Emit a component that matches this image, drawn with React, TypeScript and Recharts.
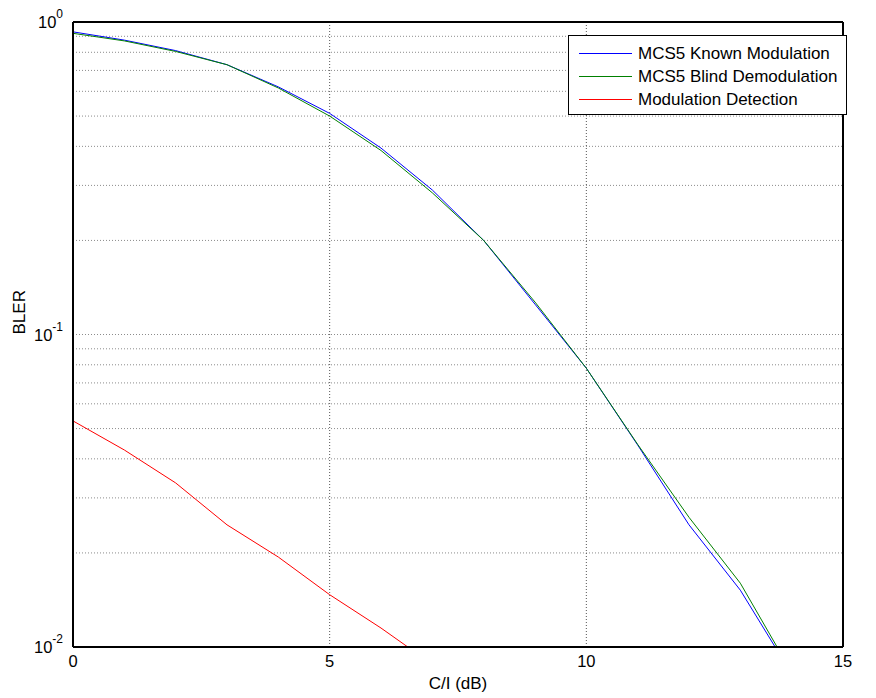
import { Line, LineChart, ReferenceLine, XAxis, YAxis } from "recharts";

const snr = [0, 1, 2, 3, 4, 5, 6, 7, 8, 9, 10, 11, 12, 13, 14];
const knownMod = [0.93, 0.875, 0.81, 0.73, 0.62, 0.51, 0.395, 0.29, 0.2, 0.125, 0.078, 0.0443, 0.0246, 0.0152, 0.0082];
const blindDemod = [0.92, 0.87, 0.805, 0.73, 0.615, 0.5, 0.388, 0.284, 0.2, 0.127, 0.078, 0.0445, 0.026, 0.016, 0.0083];
const modDetect = [0.0529, 0.0427, 0.0335, 0.0246, 0.0194, 0.0147, 0.0115, 0.0088, null, null, null, null, null, null, null];

const xTicks = [0, 5, 10, 15];
const yTicks = [0.01, 0.1, 1];
const minorGrid = [0.02, 0.03, 0.04, 0.05, 0.06, 0.07, 0.08, 0.09, 0.1, 0.2, 0.3, 0.4, 0.5, 0.6, 0.7, 0.8, 0.9];
const xGrid = [5, 10];

const series = [
  { key: "known", name: "MCS5 Known Modulation", color: "#0000ff" },
  { key: "blind", name: "MCS5 Blind Demodulation", color: "#008000" },
  { key: "detect", name: "Modulation Detection", color: "#ff0000" },
];

const data = snr.map((x, i) => ({
  snr: x,
  known: knownMod[i],
  blind: blindDemod[i],
  detect: modDetect[i],
}));

const font = "'Liberation Sans', Arial, sans-serif";

function PowerTick({ x, y, payload }: any) {
  const exp = Math.round(Math.log10(payload.value));
  return (
    <text x={x - 2} y={y + 6} textAnchor="end" fontSize={16.5} fontFamily={font} fill="#000">
      10
      <tspan dy={-10} fontSize={12}>
        {exp}
      </tspan>
    </text>
  );
}

function LegendBox() {
  return (
    <div
      style={{
        position: "absolute",
        left: 560,
        top: 27,
        width: 279,
        height: 80,
        border: "1px solid #000",
        background: "#fff",
        fontFamily: font,
        fontSize: 17,
        boxSizing: "border-box",
        paddingTop: 6,
      }}
    >
      {series.map((s) => (
        <div key={s.key} style={{ display: "flex", alignItems: "center", height: 23 }}>
          <div style={{ width: 53, height: 1, background: s.color, marginLeft: 10, marginRight: 6 }} />
          <span>{s.name}</span>
        </div>
      ))}
    </div>
  );
}

export default function App() {
  return (
    <div style={{ position: "relative", width: 868, height: 690 }}>
      <LineChart width={868} height={690} data={data} margin={{ top: 14, right: 33, left: 15, bottom: 21 }}>
        {minorGrid.map((v) => (
          <ReferenceLine key={`h${v}`} y={v} stroke="#8c8c8c" strokeDasharray="1 2" />
        ))}
        {xGrid.map((v) => (
          <ReferenceLine key={`v${v}`} x={v} stroke="#555" strokeDasharray="1 2" />
        ))}
        <XAxis
          dataKey="snr"
          type="number"
          domain={[0, 15]}
          ticks={xTicks}
          height={30}
          tickLine={false}
          axisLine={{ stroke: "#000", strokeWidth: 2 }}
          tick={{ fontSize: 16.5, fontFamily: font, fill: "#000" }}
          label={{ value: "C/I (dB)", position: "insideBottom", offset: -12, fontSize: 17, fontFamily: font, fill: "#000" }}
        />
        <YAxis
          scale="log"
          domain={[0.01, 1]}
          allowDataOverflow
          ticks={yTicks}
          width={50}
          tickLine={false}
          axisLine={{ stroke: "#000", strokeWidth: 2 }}
          tick={<PowerTick />}
          label={{ value: "BLER", angle: -90, position: "insideLeft", offset: -4, fontSize: 17, fontFamily: font, fill: "#000" }}
        />
        <ReferenceLine y={1} stroke="#000" strokeWidth={2} />
        <ReferenceLine x={15} stroke="#000" strokeWidth={2} />
        {series.map((s) => (
          <Line
            key={s.key}
            dataKey={s.key}
            name={s.name}
            stroke={s.color}
            strokeWidth={1}
            dot={false}
            type="linear"
            isAnimationActive={false}
          />
        ))}
      </LineChart>
      <LegendBox />
    </div>
  );
}
